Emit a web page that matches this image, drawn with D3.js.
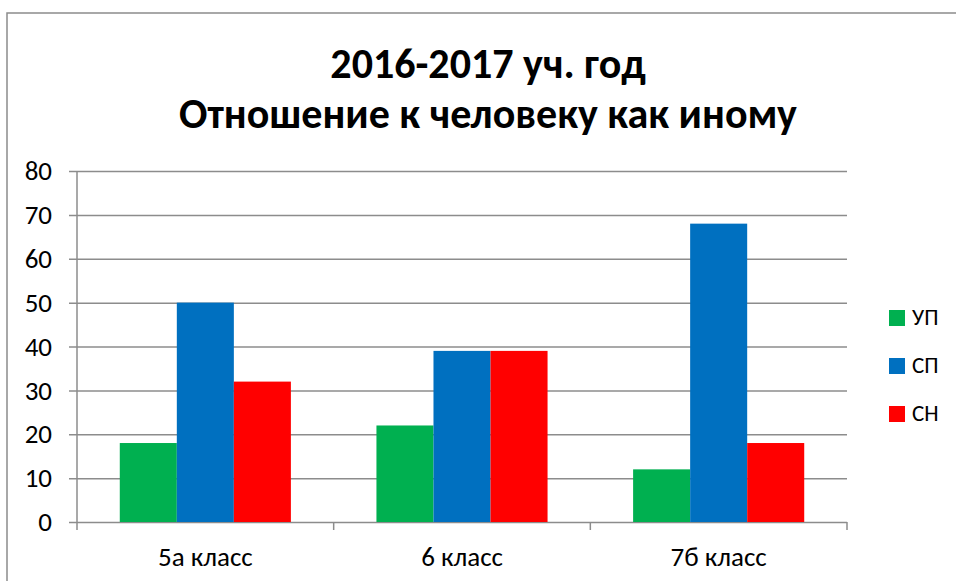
<!DOCTYPE html>
<html>
<head>
<meta charset="utf-8">
<script src="https://cdn.jsdelivr.net/npm/d3@7"></script>
<style>
  body { margin: 0; background: #fff; }
  text { font-family: Calibri, Carlito, Roboto, sans-serif; fill: #000; }
</style>
</head>
<body>
<svg width="956" height="581"></svg>
<script>
// data
var titleLines = ["2016-2017 уч. год", "Отношение к человеку как иному"];
var classes = ["5а класс", "6 класс", "7б класс"];
var seriesNames = ["УП", "СП", "СН"];
var seriesColors = ["#00B050", "#0070C0", "#FF0000"];
var upValues = [18, 22, 12];
var spValues = [50, 39, 68];
var snValues = [32, 39, 18];
var yTicks = [0, 10, 20, 30, 40, 50, 60, 70, 80];

var svg = d3.select("svg");

// outer chart frame
svg.append("rect")
  .attr("x", 7).attr("y", 13)
  .attr("width", 1000).attr("height", 1000)
  .attr("fill", "none")
  .attr("stroke", "#8c8c8c")
  .attr("stroke-width", 1.5);

// title
svg.selectAll("text.title")
  .data(titleLines)
  .enter().append("text")
  .attr("class", "title")
  .attr("x", 488)
  .attr("y", (d, i) => 78 + i * 50)
  .attr("text-anchor", "middle")
  .attr("font-size", 42)
  .attr("font-weight", "bold")
  .text(d => d);

var plotLeft = 77, plotRight = 847, plotTop = 171, plotBottom = 522;

var y = d3.scaleLinear().domain([0, 80]).range([plotBottom, plotTop]);
var x0 = d3.scaleBand().domain(classes).range([plotLeft, plotRight]).paddingInner(1 / 3).paddingOuter(1 / 6);
var x1 = d3.scaleBand().domain(seriesNames).range([0, x0.bandwidth()]).padding(0);
var color = d3.scaleOrdinal().domain(seriesNames).range(seriesColors);

var rows = classes.map((c, i) => ({
  name: c,
  values: [
    { key: "УП", value: upValues[i] },
    { key: "СП", value: spValues[i] },
    { key: "СН", value: snValues[i] }
  ]
}));

// gridlines + left ticks
var yAxis = d3.axisLeft(y).tickValues(yTicks).tickSize(0).tickPadding(25);
var gy = svg.append("g")
  .attr("transform", "translate(" + plotLeft + ",0)")
  .call(yAxis);
gy.select(".domain").remove();
gy.selectAll(".tick line")
  .attr("x1", -8)
  .attr("x2", plotRight - plotLeft)
  .attr("stroke", "#8c8c8c")
  .attr("stroke-width", 1.5);
gy.selectAll(".tick text")
  .attr("font-size", 27)
  .attr("font-family", "Calibri, Carlito, Roboto, sans-serif")
  .attr("fill", "#000");

// bars
var groups = svg.append("g").selectAll("g")
  .data(rows)
  .enter().append("g")
  .attr("transform", d => "translate(" + x0(d.name) + ",0)");

groups.selectAll("rect")
  .data(d => d.values)
  .enter().append("rect")
  .attr("x", d => x1(d.key))
  .attr("y", d => y(d.value))
  .attr("width", x1.bandwidth())
  .attr("height", d => plotBottom - y(d.value))
  .attr("fill", d => color(d.key));

// vertical axis line
svg.append("line")
  .attr("x1", plotLeft).attr("x2", plotLeft)
  .attr("y1", plotTop).attr("y2", plotBottom + 8)
  .attr("stroke", "#8c8c8c")
  .attr("stroke-width", 1.5);

// category axis
var xAxis = d3.axisBottom(x0).tickSize(0).tickPadding(25);
var gx = svg.append("g")
  .attr("transform", "translate(0," + plotBottom + ")")
  .call(xAxis);
gx.select(".domain").remove();
gx.selectAll(".tick text")
  .attr("font-size", 27)
  .attr("font-family", "Calibri, Carlito, Roboto, sans-serif")
  .attr("fill", "#000");

// category boundary ticks
svg.append("g").selectAll("line")
  .data(classes)
  .enter().append("line")
  .attr("x1", d => x0(d) + x0.bandwidth() + x0.step() * x0.paddingInner() / 2)
  .attr("x2", d => x0(d) + x0.bandwidth() + x0.step() * x0.paddingInner() / 2)
  .attr("y1", plotBottom)
  .attr("y2", plotBottom + 8)
  .attr("stroke", "#8c8c8c")
  .attr("stroke-width", 1.5);

// legend
var legend = svg.append("g").selectAll("g")
  .data(seriesNames)
  .enter().append("g")
  .attr("transform", (d, i) => "translate(889," + (310 + i * 48) + ")");

legend.append("rect")
  .attr("width", 16)
  .attr("height", 16)
  .attr("fill", d => color(d));

legend.append("text")
  .attr("x", 23)
  .attr("y", 15)
  .attr("font-size", 23)
  .text(d => d);
</script>
</body>
</html>
